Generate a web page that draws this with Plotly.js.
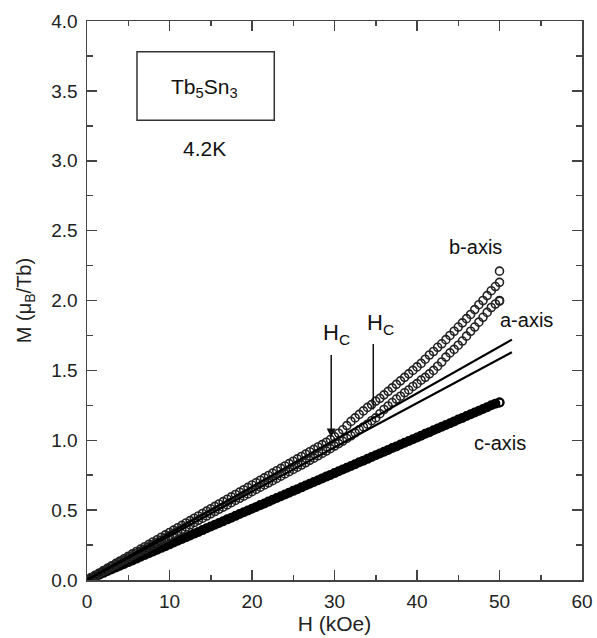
<!DOCTYPE html>
<html><head><meta charset="utf-8">
<script src="https://cdn.plot.ly/plotly-3.0.1.min.js"></script>
<style>html,body{margin:0;padding:0;background:#fff}#plot{width:597px;height:638px}</style>
</head><body><div id="plot"></div>
<script>
const H = [0,0.5,1,1.5,2,2.5,3,3.5,4,4.5,5,5.5,6,6.5,7,7.5,8,8.5,9,9.5,10,10.5,11,11.5,12,12.5,13,13.5,14,14.5,15,15.5,16,16.5,17,17.5,18,18.5,19,19.5,20,20.5,21,21.5,22,22.5,23,23.5,24,24.5,25,25.5,26,26.5,27,27.5,28,28.5,29,29.5,30,30.5,31,31.5,32,32.5,33,33.5,34,34.5,35,35.5,36,36.5,37,37.5,38,38.5,39,39.5,40,40.5,41,41.5,42,42.5,43,43.5,44,44.5,45,45.5,46,46.5,47,47.5,48,48.5,49,49.5,50,50];
const bAxis = [0,0.017,0.034,0.05,0.068,0.085,0.102,0.119,0.136,0.152,0.17,0.187,0.204,0.221,0.238,0.255,0.272,0.288,0.306,0.323,0.34,0.357,0.374,0.391,0.408,0.425,0.442,0.458,0.476,0.493,0.51,0.527,0.544,0.561,0.578,0.595,0.612,0.629,0.646,0.663,0.68,0.697,0.714,0.731,0.748,0.765,0.782,0.799,0.816,0.833,0.85,0.867,0.884,0.901,0.918,0.935,0.952,0.969,0.986,1.005,1.025,1.05,1.075,1.105,1.135,1.16,1.185,1.21,1.235,1.255,1.28,1.30,1.325,1.35,1.375,1.40,1.425,1.45,1.475,1.50,1.525,1.55,1.58,1.61,1.635,1.665,1.69,1.72,1.75,1.78,1.81,1.84,1.87,1.90,1.935,1.97,2.00,2.035,2.07,2.10,2.13,2.21];
const aAxis = [0,0.016,0.032,0.047,0.063,0.079,0.095,0.11,0.126,0.142,0.158,0.174,0.19,0.205,0.221,0.237,0.253,0.268,0.284,0.30,0.316,0.332,0.348,0.363,0.379,0.395,0.411,0.427,0.442,0.458,0.474,0.49,0.506,0.521,0.537,0.553,0.569,0.585,0.60,0.616,0.632,0.648,0.664,0.68,0.695,0.711,0.727,0.743,0.759,0.775,0.791,0.807,0.823,0.839,0.856,0.872,0.889,0.906,0.923,0.94,0.958,0.976,0.994,1.013,1.032,1.053,1.075,1.095,1.115,1.14,1.16,1.19,1.22,1.245,1.27,1.295,1.315,1.34,1.36,1.385,1.405,1.43,1.45,1.475,1.50,1.53,1.56,1.595,1.625,1.65,1.68,1.71,1.745,1.78,1.81,1.845,1.88,1.915,1.95,1.975,1.995,2.00];
const cAxis = [0,0.013,0.026,0.038,0.051,0.064,0.077,0.089,0.102,0.115,0.128,0.14,0.153,0.166,0.179,0.191,0.204,0.217,0.23,0.242,0.255,0.268,0.281,0.293,0.306,0.319,0.332,0.344,0.357,0.37,0.383,0.395,0.408,0.421,0.434,0.446,0.459,0.472,0.485,0.497,0.51,0.523,0.536,0.548,0.561,0.574,0.587,0.599,0.612,0.625,0.638,0.65,0.663,0.676,0.689,0.701,0.714,0.727,0.74,0.752,0.765,0.778,0.791,0.803,0.816,0.829,0.842,0.854,0.867,0.88,0.893,0.905,0.918,0.931,0.944,0.956,0.969,0.982,0.995,1.007,1.02,1.033,1.046,1.058,1.071,1.084,1.097,1.109,1.122,1.135,1.148,1.16,1.173,1.186,1.199,1.211,1.224,1.237,1.25,1.262,1.27,1.27];
const fitX = [0, 51.5];
const fitB = [0, 1.72];
const fitA = [0, 1.63];
const xTicks = [0,10,20,30,40,50,60];
const yTicks = [0,0.5,1.0,1.5,2.0,2.5,3.0,3.5,4.0];

const FAM = 'Liberation Sans, Arial, Helvetica, sans-serif';
const mk = {symbol:'circle-open', size:8, color:'#222', line:{width:1.6, color:'#222'}};
const traces = [
  {x:H, y:cAxis, mode:'lines+markers', line:{color:'#000', width:7}, marker:{symbol:'circle-open', size:8, color:'#000', line:{width:2, color:'#000'}}, showlegend:false, hoverinfo:'skip'},
  {x:H, y:aAxis, mode:'markers', marker:mk, showlegend:false},
  {x:H, y:bAxis, mode:'markers', marker:mk, showlegend:false},
  {x:fitX, y:fitB, mode:'lines', line:{color:'#000', width:2.2}, showlegend:false},
  {x:fitX, y:fitA, mode:'lines', line:{color:'#000', width:2.2}, showlegend:false}
];
const tf = {family:FAM, size:19, color:'#222'};
const ax = {
  showline:true, linecolor:'#444', linewidth:1.5, mirror:'ticks', ticks:'inside', ticklen:10, tickwidth:1.5, tickcolor:'#444',
  showgrid:false, zeroline:false, tickfont:tf, ticklabelstandoff:4
};
const ann = (x, y, text, size) => ({x:x, y:y, xref:'x', yref:'y', text:text, showarrow:false, font:{family:FAM, size:size, color:'#111'}});
const layout = {
  width:597, height:638, margin:{l:87, r:15, t:21, b:58},
  paper_bgcolor:'#fff', plot_bgcolor:'#fff', font:{family:FAM, size:19, color:'#222'},
  xaxis:Object.assign({}, ax, {range:[0,60], tickvals:xTicks, ticktext:xTicks.map(String), minor:{tickvals:[5,15,25,35,45,55], ticks:'inside', ticklen:5, tickwidth:1.5, tickcolor:'#444'}, title:{text:'H (kOe)', font:{family:FAM, size:21, color:'#222'}, standoff:2}}),
  yaxis:Object.assign({}, ax, {range:[0,4], tickvals:yTicks, ticktext:yTicks.map(v=>v.toFixed(1)), minor:{tickvals:[0.25,0.75,1.25,1.75,2.25,2.75,3.25,3.75], ticks:'inside', ticklen:6, tickwidth:1.5, tickcolor:'#444'}, title:{text:'M (μ<sub>B</sub>/Tb)', font:{family:FAM, size:20, color:'#222'}, standoff:14}}),
  shapes:[{type:'rect', xref:'x', yref:'y', x0:6.06, x1:22.7, y0:3.29, y1:3.78, line:{color:'#333', width:1.5}}],
  annotations:[
    ann(14.3, 3.52, 'Tb<sub>5</sub>Sn<sub>3</sub>', 21),
    ann(14.3, 3.09, '4.2K', 21),
    ann(47.1, 2.38, 'b-axis', 20),
    ann(53.3, 1.86, 'a-axis', 20),
    ann(50.1, 0.98, 'c-axis', 20),
    ann(30.2, 1.76, 'H<sub>C</sub>', 22),
    ann(35.6, 1.83, 'H<sub>C</sub>', 22),
    {x:29.6, y:1.02, ax:29.6, ay:1.62, xref:'x', yref:'y', axref:'x', ayref:'y', text:'', showarrow:true, arrowhead:2, arrowsize:1.2, arrowwidth:1.5, arrowcolor:'#111'},
    {x:34.7, y:1.22, ax:34.7, ay:1.70, xref:'x', yref:'y', axref:'x', ayref:'y', text:'', showarrow:true, arrowhead:0, arrowwidth:1.5, arrowcolor:'#111'}
  ]
};
Plotly.newPlot('plot', traces, layout, {displayModeBar:false, staticPlot:true});
</script></body></html>
